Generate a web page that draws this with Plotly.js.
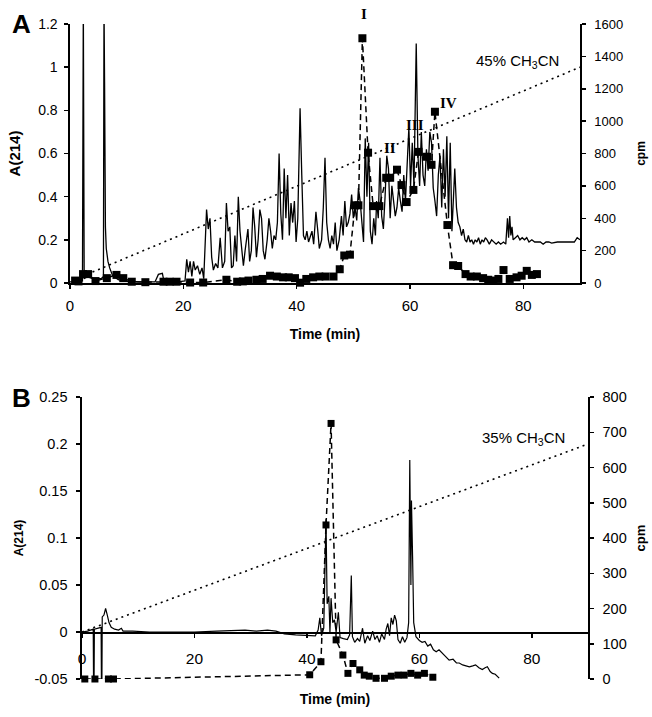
<!DOCTYPE html>
<html><head><meta charset="utf-8">
<script src="https://cdn.plot.ly/plotly-3.0.1.min.js"></script>
<style>html,body{margin:0;padding:0;background:#fff}#chart{width:652px;height:717px}</style>
</head><body><div id="chart"></div>
<script>
// ---------- Panel A data ----------
const timeA = [
  0,1,2.2,2.35,2.5,3,4,5.5,5.9,6.0,
  6.1,6.25,6.4,6.7,7.0,7.5,8.5,10,12,15,
  15.6,16.3,16.6,19,20.3,20.6,20.9,21.2,21.5,21.8,
  22.1,22.5,22.9,23.3,23.6,24.1,24.4,24.7,25.0,25.3,
  25.7,26.1,26.5,26.9,27.3,27.6,27.9,28.2,28.5,28.8,
  29.1,29.4,29.7,30.0,30.3,30.6,30.9,31.4,31.7,32.0,
  32.3,32.6,32.9,33.2,33.5,33.8,34.1,34.4,34.8,35.1,
  35.4,35.7,36.0,36.3,36.6,36.9,37.2,37.5,37.8,38.1,
  38.4,38.7,39.0,39.3,39.6,39.9,40.2,40.6,40.9,41.2,
  41.5,41.8,42.1,42.4,42.7,43.0,43.4,43.7,44.0,44.4,
  44.7,45.0,45.3,45.6,45.9,46.2,46.5,46.8,47.1,47.5,
  47.9,48.2,48.5,48.8,49.1,49.4,49.7,50.0,50.3,50.6,
  50.9,51.2,51.5,51.8,52.1,52.4,52.7,53.0,53.3,53.6,
  53.9,54.1,54.4,54.7,55.0,55.3,55.6,55.9,56.2,56.5,
  56.8,57.1,57.4,57.7,58.0,58.3,58.6,58.9,59.2,59.5,
  59.8,60.1,60.4,60.7,61.1,61.4,61.7,62.0,62.3,62.6,
  62.9,63.2,63.5,63.8,64.1,64.4,64.7,65.0,65.3,65.6,
  65.9,66.2,66.5,66.8,67.1,67.4,67.7,67.9,68.2,68.5,
  68.8,69.1,69.4,69.7,70.0,70.3,70.6,70.9,71.2,71.5,
  71.8,72.1,72.4,72.7,73.0,73.3,73.6,74.0,74.4,74.8,
  75.2,75.6,76.0,76.5,76.9,77.2,77.4,77.6,77.8,78.0,
  78.2,78.6,79.0,79.4,79.8,80.2,80.6,81.0,81.5,82.0,
  82.5,83.0,83.5,84.0,84.5,85.0,86,87,88,89,
  89.5,90
];
const absA = [
  0.005,0.005,0.01,1.3,0.02,0.03,0.02,0.02,0.03,1.3,
  0.93,0.26,0.16,0.1,0.07,0.035,0.015,0.008,0.005,0.005,
  0.04,0.045,0.005,0.005,0.01,0.11,0.05,0.1,0.03,0.1,
  0.06,0.08,0.04,0.07,0.02,0.34,0.25,0.3,0.12,0.06,
  0.09,0.07,0.21,0.07,0.1,0.37,0.24,0.26,0.07,0.08,
  0.22,0.1,0.4,0.24,0.14,0.08,0.15,0.25,0.1,0.15,
  0.35,0.26,0.12,0.2,0.34,0.3,0.15,0.11,0.2,0.3,
  0.24,0.16,0.22,0.2,0.28,0.6,0.32,0.2,0.53,0.3,
  0.5,0.22,0.37,0.28,0.38,0.19,0.3,0.81,0.5,0.22,
  0.2,0.24,0.19,0.22,0.24,0.18,0.33,0.25,0.16,0.2,
  0.35,0.58,0.28,0.2,0.16,0.22,0.18,0.28,0.15,0.2,
  0.31,0.22,0.38,0.26,0.28,0.32,0.41,0.3,0.35,0.29,
  0.44,0.38,0.28,0.19,0.67,0.4,0.65,0.24,0.18,0.3,
  0.22,0.38,0.3,0.58,0.31,0.25,0.4,0.59,0.53,0.3,
  0.45,0.38,0.31,0.35,0.44,0.38,0.33,0.5,0.38,0.55,
  0.72,0.45,0.65,0.45,1.11,0.59,0.45,0.7,0.5,0.45,
  0.62,0.52,0.7,0.65,0.44,0.38,0.31,0.5,0.59,0.35,
  0.62,0.4,0.68,0.3,0.65,0.24,0.4,0.53,0.35,0.28,
  0.26,0.22,0.25,0.2,0.19,0.22,0.19,0.2,0.18,0.2,
  0.19,0.21,0.18,0.2,0.19,0.21,0.2,0.18,0.2,0.19,
  0.18,0.19,0.18,0.19,0.18,0.3,0.21,0.31,0.22,0.26,
  0.2,0.21,0.22,0.2,0.21,0.2,0.21,0.19,0.2,0.19,
  0.19,0.19,0.18,0.19,0.19,0.185,0.19,0.19,0.19,0.19,
  0.21,0.2
];
const cpmTimeA = [
  0.9,1.5,2.3,3.2,4.5,6.5,8.2,9.4,10.9,13.3,
  16.5,17.6,18.8,21.2,23.5,27.6,29.5,30.5,31.5,32.9,
  34.0,35.3,36.5,37.6,38.6,39.7,40.6,41.7,42.9,44.0,
  45.1,46.5,47.6,48.4,49.4,50.3,50.9,51.6,52.6,53.5,
  54.6,55.8,56.5,57.7,58.5,59.4,60.6,61.5,63.0,63.8,
  64.4,66.6,67.6,68.5,69.8,70.7,71.8,72.9,73.8,74.7,
  75.6,76.5,77.6,78.8,79.7,80.6,81.5,82.4
];
const cpmA = [
  15,10,55,55,12,30,50,30,8,5,
  8,8,8,3,3,20,8,10,15,20,
  25,45,40,35,35,30,2,25,35,40,
  40,40,85,170,175,480,480,1512,805,475,
  475,650,650,700,605,500,575,810,780,730,
  1058,358,110,105,55,40,40,30,20,15,
  25,80,25,35,45,75,50,55
];
const gradTimeA = [3, 90];
const gradA = [0.04, 1.0];
const peakLabels = ['I','II','III','IV'];
const peakLabelTime = [51.8, 56.5, 60.9, 66.8];
const peakLabelCpm = [1662, 837, 976, 1112];

// ---------- Panel B data ----------
const timeB = [
  0,1,2.0,2.1,2.2,3.0,3.4,3.5,3.6,3.9,
  4.2,4.5,4.8,5.2,5.8,6.5,7.0,7.3,9,12,
  16,20,24,27,29,31,33,34.5,36,38,
  40,41.5,42.0,42.3,42.6,43.0,43.4,43.6,43.9,44.1,
  44.3,44.6,44.9,45.2,45.6,45.9,46.5,47.2,47.6,47.9,
  48.1,48.5,49.0,49.4,49.9,50.3,50.8,51.2,51.7,52.1,
  52.5,52.9,53.3,53.8,54.1,54.4,54.7,55.0,55.3,55.6,
  55.9,56.2,56.6,57.0,57.4,57.8,58.1,58.3,58.5,58.6,
  58.8,59.0,59.4,60.0,60.5,61.0,61.5,62.0,62.5,63.0,
  63.5,64.1,64.6,65.3,66.0,66.6,67.1,67.7,68.3,68.9,
  69.5,70.0,70.6,71.2,71.7,72.1,72.6,73.0,73.5,74.2
];
const absB = [
  0,0.001,0.003,-0.1,0.003,0.004,0.005,-0.1,0.016,0.018,
  0.025,0.018,0.01,0.005,0.003,0.002,0.004,0.001,0.001,0,
  0,0,0.001,0.002,0.002,0.001,0.002,0.001,-0.002,-0.003,
  -0.004,-0.004,0.002,0.015,-0.004,0.004,0.12,0.03,0.038,0,
  0.036,0.01,0.013,0,0.021,-0.006,-0.007,-0.008,-0.003,0.06,
  -0.005,-0.011,-0.007,-0.01,0.004,-0.012,-0.004,-0.009,0.001,-0.008,
  -0.004,-0.011,-0.002,-0.008,0.003,0.009,-0.004,0.015,0.008,0.018,
  0.012,-0.008,-0.012,-0.005,-0.011,-0.006,0.01,0.183,0.05,0.14,
  0.08,0.01,-0.005,-0.009,-0.011,-0.01,-0.015,-0.013,-0.019,-0.021,
  -0.019,-0.023,-0.026,-0.03,-0.029,-0.033,-0.033,-0.035,-0.036,-0.037,
  -0.036,-0.035,-0.038,-0.04,-0.038,-0.037,-0.042,-0.044,-0.045,-0.049
];
const cpmTimeB = [
  0.5,2.3,4.7,5.6,40.5,42.5,43.4,44.3,45.2,46.4,
  47.3,48.2,49.4,50.2,51.1,52.3,53.8,55.0,56.2,57.3,
  58.5,59.7,60.9,62.4
];
const cpmB = [
  0,0,0,0,12,49,437,725,111,68,
  16,44,26,11,8,2,2,8,11,11,
  16,11,16,5
];
const gradTimeB = [0, 90];
const gradB = [0, 0.2];
const yTickValsB = [-0.05, 0, 0.05, 0.1, 0.15, 0.2, 0.25];
const yTickTextB = ['-0.05', '0', '0.05', '0.1', '0.15', '0.2', '0.25'];

// ---------- geometry (pixels in a 652x717 page) ----------
const W = 652, H = 717;
const px = v => v / W, py = v => 1 - v / H;
const FONT = 'Liberation Sans, Arial, sans-serif';
const dashLine = '6px,4px';
const dotLine = '2px,4px';
const domXA = [px(70), px(580)], domYA = [py(283), py(24)];
const domXB = [px(82), px(588)], domYB = [py(679), py(397)];
const cpmRangeA = [0, 1600];

const traces = [
  {x: timeA, y: absA, xaxis: 'x', yaxis: 'y', mode: 'lines', line: {color: '#000', width: 1.3}},
  {x: gradTimeA, y: gradA, xaxis: 'x', yaxis: 'y', mode: 'lines', line: {color: '#000', width: 1.6, dash: dotLine}},
  {x: cpmTimeA, y: cpmA, xaxis: 'x', yaxis: 'y2', mode: 'lines+markers', cliponaxis: false,
   line: {color: '#000', width: 1.5, dash: dashLine}, marker: {symbol: 'square', size: 8, color: '#000'}},
  {x: timeB, y: absB, xaxis: 'x2', yaxis: 'y3', mode: 'lines', line: {color: '#000', width: 1.2}},
  {x: gradTimeB, y: gradB, xaxis: 'x2', yaxis: 'y3', mode: 'lines', line: {color: '#000', width: 1.6, dash: dotLine}},
  {x: cpmTimeB, y: cpmB, xaxis: 'x2', yaxis: 'y4', mode: 'lines+markers', cliponaxis: false,
   line: {color: '#000', width: 1.5, dash: dashLine}, marker: {symbol: 'square', size: 7, color: '#000'}}
];

const axBase = {showline: true, linecolor: '#000', linewidth: 1.6, ticks: 'outside', ticklen: 4,
  tickwidth: 1.5, tickcolor: '#000', showgrid: false, zeroline: false, fixedrange: true};

const annotations = [
  {xref: 'paper', yref: 'paper', x: px(21), y: py(24), xanchor: 'center', yanchor: 'middle',
   text: '<b>A</b>', showarrow: false, font: {size: 26, family: FONT}},
  {xref: 'paper', yref: 'paper', x: px(21), y: py(398), xanchor: 'center', yanchor: 'middle',
   text: '<b>B</b>', showarrow: false, font: {size: 26, family: FONT}},
  {xref: 'x', yref: 'y2', x: 78.9, y: 1367, xanchor: 'center', yanchor: 'middle',
   text: '45% CH<sub>3</sub>CN', showarrow: false, font: {size: 15, family: FONT}},
  {xref: 'x2', yref: 'y4', x: 78.6, y: 681, xanchor: 'center', yanchor: 'middle',
   text: '35% CH<sub>3</sub>CN', showarrow: false, font: {size: 15, family: FONT}}
];
// roman numeral peak labels (the "I" sits above the axis range, so place them in paper space)
peakLabels.forEach((t, i) => annotations.push({
  xref: 'x', yref: 'paper', x: peakLabelTime[i],
  y: domYA[0] + (peakLabelCpm[i] - cpmRangeA[0]) / (cpmRangeA[1] - cpmRangeA[0]) * (domYA[1] - domYA[0]),
  xanchor: 'center', yanchor: 'middle', text: '<b>' + t + '</b>',
  showarrow: false, font: {size: 15, family: 'Liberation Serif, Times New Roman, serif'}
}));

const layout = {
  width: W, height: H,
  margin: {l: 0, r: 0, t: 0, b: 0, pad: 0},
  paper_bgcolor: '#fff', plot_bgcolor: 'rgba(0,0,0,0)',
  showlegend: false,
  font: {family: FONT, color: '#000'},
  xaxis: Object.assign({}, axBase, {domain: domXA, range: [0, 90], anchor: 'y',
    tick0: 0, dtick: 20, tickfont: {size: 15}, ticklabelstandoff: 4,
    title: {text: '<b>Time (min)</b>', font: {size: 14}, standoff: 16}}),
  yaxis: Object.assign({}, axBase, {domain: domYA, range: [0, 1.2], anchor: 'x',
    tick0: 0, dtick: 0.2, tickfont: {size: 14}, ticklabelstandoff: 4,
    title: {text: '<b>A(214)</b>', font: {size: 15}, standoff: 14}}),
  yaxis2: Object.assign({}, axBase, {overlaying: 'y', side: 'right', anchor: 'x', range: cpmRangeA,
    tick0: 0, dtick: 200, tickfont: {size: 13}, ticklabelstandoff: 6,
    title: {text: '<b>cpm</b>', font: {size: 12}, standoff: 14}}),
  yaxis5: {overlaying: 'y', side: 'right', anchor: 'x', range: cpmRangeA, tick0: 0, dtick: 200,
    ticks: 'inside', ticklen: 4, tickwidth: 1.5, tickcolor: '#000', showticklabels: false,
    showline: false, showgrid: false, zeroline: false, fixedrange: true},
  xaxis2: Object.assign({}, axBase, {domain: domXB, range: [0, 90], anchor: 'free',
    position: py(632), tick0: 0, dtick: 20, tickfont: {size: 15.5}, ticklabelstandoff: 8,
    title: {text: '<b>Time (min)</b>', font: {size: 14}, standoff: 28}}),
  yaxis3: Object.assign({}, axBase, {domain: domYB, range: [-0.05, 0.25], anchor: 'x2',
    tickmode: 'array', tickvals: yTickValsB, ticktext: yTickTextB, tickfont: {size: 14.5},
    ticklabelstandoff: 6, title: {text: '<b>A(214)</b>', font: {size: 12}, standoff: 8}}),
  yaxis4: Object.assign({}, axBase, {overlaying: 'y3', side: 'right', anchor: 'x2', range: [0, 800],
    tick0: 0, dtick: 100, tickfont: {size: 14.5}, ticklabelstandoff: 6,
    title: {text: '<b>cpm</b>', font: {size: 13}, standoff: 10}}),
  yaxis6: {overlaying: 'y3', side: 'right', anchor: 'x2', range: [0, 800], tick0: 0, dtick: 100,
    ticks: 'inside', ticklen: 4, tickwidth: 1.5, tickcolor: '#000', showticklabels: false,
    showline: false, showgrid: false, zeroline: false, fixedrange: true},
  annotations: annotations
};

Plotly.newPlot('chart', traces, layout, {displayModeBar: false, staticPlot: true});
</script></body></html>
